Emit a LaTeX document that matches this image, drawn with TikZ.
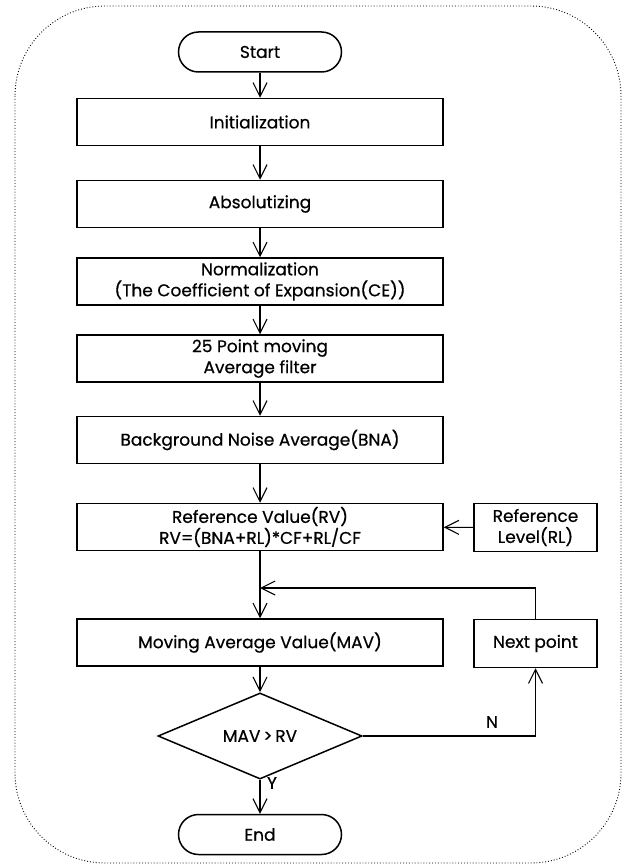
\documentclass[tikz,border=0pt]{standalone}
\usepackage{fontspec}
\setmainfont{Poppins}[FakeBold=0.6]
\usetikzlibrary{arrows.meta,shapes.geometric,calc}
\begin{document}
\begin{tikzpicture}[x=1pt,y=-1pt,
  txt/.style={font=\fontsize{17}{21}\selectfont},
  box/.style={draw,line width=1.5pt,minimum width=366pt,minimum height=47pt,align=center,inner sep=0pt,txt},
  sidebox/.style={draw,line width=1.5pt,minimum width=123pt,minimum height=48pt,align=center,inner sep=0pt,txt},
  term/.style={draw,line width=1.5pt,rounded corners=20pt,minimum width=163pt,minimum height=40pt,inner sep=0pt,txt},
  decision/.style={draw,diamond,line width=1.5pt,minimum width=204pt,minimum height=54pt,inner sep=0pt,txt},
  arr/.style={line width=1.1pt,-{Straight Barb[length=14pt,width=14pt,line width=1.1pt]}},
  lbl/.style={txt}
]
\useasboundingbox (0,0) rectangle (629,866);
\draw[line width=0.9pt,dotted,rounded corners=90pt] (15,6) rectangle (621,863);

\node[term] (start) at (260,52) {Start};
\node[box] (init) at (260,122) {Initialization};
\node[box] (abs) at (260,204) {Absolutizing};
\node[box] (norm) at (260,281.5) {Normalization\\(The Coefficient of Expansion(CE))};
\node[box] (filt) at (260,358.5) {25 Point moving\\Average filter};
\node[box] (bna) at (260,440) {Background Noise Average(BNA)};
\node[box] (rv) at (260,527) {Reference Value(RV)\\RV=(BNA+RL)*CF+RL/CF};
\node[sidebox] (rl) at (535.5,527.5) {Reference\\Level(RL)};
\coordinate (j) at (260,588);
\node[box] (mav) at (260,642.5) {Moving Average Value(MAV)};
\node[sidebox] (next) at (535.5,643.5) {Next point};
\node[decision] (dec) at (260,736) {MAV\,>\,RV};
\node[term] (end) at (260,834.5) {End};

\draw[arr] (start) -- (init);
\draw[arr] (init) -- (abs);
\draw[arr] (abs) -- (norm);
\draw[arr] (norm) -- (filt);
\draw[arr] (filt) -- (bna);
\draw[arr] (bna) -- (rv);
\draw[arr] (rl) -- (rv);
\draw[arr] (rv) -- (mav);
\draw[arr] (next.north) |- (j);
\draw[arr] (mav) -- (dec);
\draw[arr] (dec.east) -| (next.south);
\draw[arr] (dec.south) -- (end.north);
\node[lbl] at (492,722) {N};
\node[lbl] at (272,783) {Y};
\end{tikzpicture}
\end{document}
